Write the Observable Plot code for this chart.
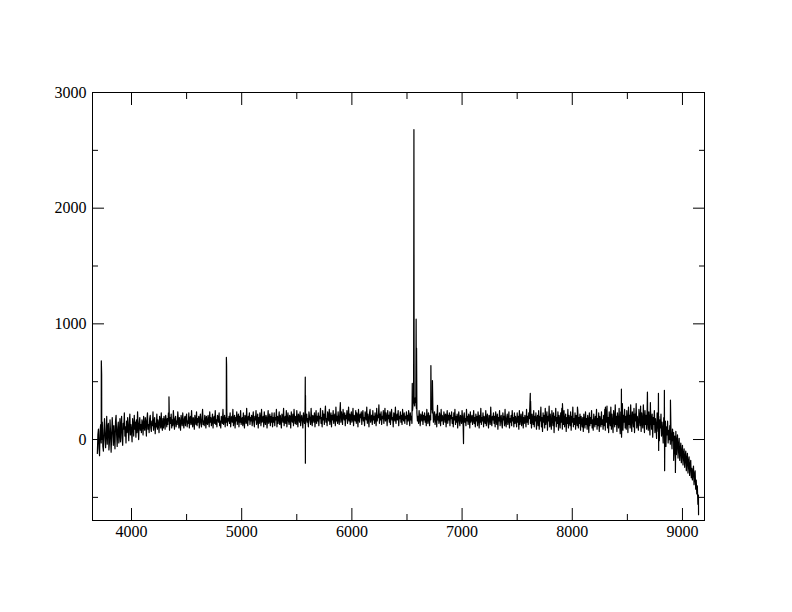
<!DOCTYPE html>
<html>
<head>
<meta charset="utf-8">
<script src="https://cdn.jsdelivr.net/npm/d3@7"></script>
<script src="https://cdn.jsdelivr.net/npm/@observablehq/plot@0.6"></script>
<style>
  html, body { margin: 0; padding: 0; background: white; }
  #chart { width: 792px; height: 612px; }
  #chart svg text { font-family: "Liberation Serif", "Times New Roman", "DejaVu Serif", serif; }
</style>
</head>
<body>
<div id="chart"></div>
<script>
const waveStart = 3690;
const waveStep = 5;
const flux = [
  -120,40,90,-80,-140,70,130,-30,10,150,-60,-100,80,180,20,-70,60,200,-40,110,140,-90,-20,170,60,-110,30,190,90,-50,120,10,-80,160,210,40,-60,100,150,-30,
  50,180,-20,120,200,10,-50,140,90,230,30,110,-30,160,60,190,100,-10,150,220,40,130,70,-20,180,120,30,210,90,150,20,170,60,240,110,0,140,190,80,130,
  60,170,140,40,200,110,80,190,150,30,170,230,90,130,60,180,210,100,70,160,120,240,80,150,190,50,140,110,220,90,170,130,60,200,160,100,230,120,80,180,
  100,200,150,90,210,170,110,180,130,230,160,80,190,140,220,100,170,120,250,150,90,180,200,110,160,130,240,170,100,190,140,80,210,160,120,230,150,100,180,200,
  120,190,220,110,160,140,230,100,180,200,130,250,150,110,190,170,90,210,160,130,240,120,180,150,200,100,170,220,140,110,190,260,130,160,120,210,180,100,200,150,
  130,210,170,110,240,150,190,120,160,220,100,180,200,140,250,130,170,110,210,190,150,230,120,160,100,200,180,140,260,130,170,210,110,190,150,240,120,180,160,200,
  140,230,110,180,200,150,260,120,170,210,100,190,160,240,130,180,220,110,200,150,250,130,170,190,120,230,160,100,210,180,140,270,150,120,200,170,230,130,190,160,
  210,120,180,240,150,110,200,170,250,130,160,220,100,190,140,230,180,120,260,150,170,200,110,240,160,130,210,190,100,180,250,140,170,220,120,200,150,230,110,190,
  150,230,120,190,170,260,110,200,140,180,240,130,210,160,100,220,190,150,270,120,170,200,140,250,110,180,230,160,130,210,190,100,240,170,150,220,120,260,180,140,
  200,130,250,170,110,220,190,150,240,120,180,210,160,100,230,170,140,260,130,190,220,150,180,110,240,200,160,130,270,170,120,210,190,150,230,110,180,250,140,200,
  160,230,120,200,180,270,140,190,110,250,170,220,130,210,290,150,180,120,240,200,160,260,130,190,230,110,210,170,250,140,190,220,120,280,160,200,140,240,180,130,
  220,310,150,240,190,130,260,200,170,230,120,210,180,250,140,190,280,160,220,130,200,240,150,180,270,120,210,190,160,250,140,230,200,110,260,180,150,220,190,240,
  130,210,250,160,190,120,240,200,170,280,140,220,180,110,230,260,150,190,210,130,250,170,200,140,230,180,120,270,160,210,190,300,140,220,170,240,130,200,180,250,
  140,200,270,160,230,190,120,250,180,210,150,240,130,200,260,170,190,110,230,210,160,280,140,190,220,170,250,120,200,180,240,150,210,130,260,190,160,230,140,200,
  180,240,130,210,160,250,190,120,230,170,200,140,250,300,380,330,290,360,320,270,230,160,200,140,250,180,120,220,190,160,240,130,210,170,230,150,200,120,260,180,
  140,230,190,120,210,170,260,290,230,270,150,200,240,130,180,220,110,250,170,200,140,230,190,120,260,160,210,180,130,240,200,150,220,110,190,250,140,210,170,230,
  120,210,180,240,140,190,110,230,170,260,130,200,150,220,100,180,240,160,120,210,190,140,250,170,110,200,230,150,180,120,260,160,200,130,220,190,100,240,150,180,
  210,130,170,250,140,190,110,220,160,200,120,240,180,100,210,150,270,130,190,160,230,110,200,170,140,250,120,180,220,150,100,210,190,130,280,160,120,200,170,230,
  140,200,110,240,170,130,220,90,190,160,250,120,180,210,140,100,230,170,200,120,260,150,110,190,220,130,170,240,100,180,150,210,120,250,160,190,110,230,140,200,
  170,110,230,150,200,90,250,130,180,220,120,160,240,100,190,140,210,170,110,260,150,200,130,230,180,290,140,190,100,220,170,130,250,110,200,160,230,90,180,210,
  120,250,90,200,160,280,110,190,70,230,150,210,100,270,130,180,240,80,200,160,290,110,220,140,90,250,180,120,230,60,200,160,270,110,190,140,240,80,210,170,
  100,230,150,270,90,200,130,250,110,180,220,70,190,140,260,100,210,160,120,240,80,200,150,280,110,180,130,230,90,210,170,120,250,100,190,140,220,80,200,160,
  110,190,70,220,150,100,240,130,180,90,210,160,60,230,120,190,140,250,100,170,80,220,150,110,200,130,260,90,180,120,230,70,200,150,110,240,130,170,90,210,
  120,260,80,210,150,290,100,190,60,240,170,120,280,90,220,140,60,250,180,110,300,130,200,70,230,160,100,270,140,50,240,190,120,310,80,210,150,260,100,200,
  90,250,170,60,280,130,210,100,300,150,70,240,190,110,270,60,220,160,310,100,200,140,80,260,180,120,290,70,230,150,100,300,170,60,250,130,210,90,280,160,
  80,240,130,40,260,170,90,220,20,190,130,250,60,180,110,10,230,140,70,200,-10,170,100,220,30,150,80,-30,190,120,40,160,-60,110,40,160,-30,80,0,120,
  -40,110,20,-80,90,-10,60,-110,30,-50,70,-130,-20,40,-160,-60,10,-180,-90,-30,-200,-110,-50,-220,-130,-80,-240,-150,-100,-270,-170,-120,-290,-200,-150,-310,-220,-180,-330,-250,
  -350,-280,-230,-390,-310,-270,-430,-350,-470,-400,-560,-480
];

// Emission lines, sky lines and spikes (wavelength, flux)
const lineWave = [3726,3729,4340,4861,4863,5577,5578,5579,5895,6300,6548,6563,6583,6587,6717,6731,6777,7013,7619,7622,7911,8047,8301,8446,8447,8682,8709,8782,8784,8836,8838,8891,8920,8936,9146];
const lineFlux = [680,560,370,710,640,540,-205,380,320,270,485,2680,1040,790,640,510,295,-35,400,330,310,280,280,435,20,410,320,400,-95,425,-270,340,-180,-285,-650];

// Axis ticks
const xMajor = [4000,5000,6000,7000,8000,9000];
const xMinor = [4500,5500,6500,7500,8500];
const yMajor = [0,1000,2000,3000];
const yMinor = [-500,500,1500,2500];

const data = [];
flux.forEach((f, i) => data.push({w: waveStart + i * waveStep, f}));
lineWave.forEach((w, i) => data.push({w, f: lineFlux[i]}));
data.sort((a, b) => a.w - b.w);

const blank = () => "";
const serif = "Liberation Serif";

const chart = Plot.plot({
  width: 792,
  height: 612,
  marginLeft: 92,
  marginRight: 88,
  marginTop: 92,
  marginBottom: 92,
  style: {fontFamily: serif, fontSize: "16px", background: "white", color: "black"},
  x: {domain: [3646, 9200], label: null},
  y: {domain: [-700, 3000], label: null},
  marks: [
    Plot.line(data, {x: "w", y: "f", stroke: "black", strokeWidth: 1.2}),
    Plot.frame({stroke: "black", strokeWidth: 1}),
    Plot.axisX(xMajor, {anchor: "bottom", tickSize: 0, tickPadding: 5, label: null, fontSize: 16, fontFamily: serif, tickFormat: "d"}),
    Plot.axisY(yMajor, {anchor: "left", tickSize: 0, tickPadding: 6, label: null, fontSize: 16, fontFamily: serif, tickFormat: "d"}),
    Plot.axisX(xMajor, {anchor: "bottom", tickSize: -12, tickFormat: blank, label: null}),
    Plot.axisX(xMinor, {anchor: "bottom", tickSize: -6, tickFormat: blank, label: null}),
    Plot.axisX(xMajor, {anchor: "top", tickSize: -12, tickFormat: blank, label: null}),
    Plot.axisX(xMinor, {anchor: "top", tickSize: -6, tickFormat: blank, label: null}),
    Plot.axisY(yMajor, {anchor: "left", tickSize: -12, tickFormat: blank, label: null}),
    Plot.axisY(yMinor, {anchor: "left", tickSize: -6, tickFormat: blank, label: null}),
    Plot.axisY(yMajor, {anchor: "right", tickSize: -12, tickFormat: blank, label: null}),
    Plot.axisY(yMinor, {anchor: "right", tickSize: -6, tickFormat: blank, label: null})
  ]
});
document.getElementById("chart").appendChild(chart);
</script>
</body>
</html>
